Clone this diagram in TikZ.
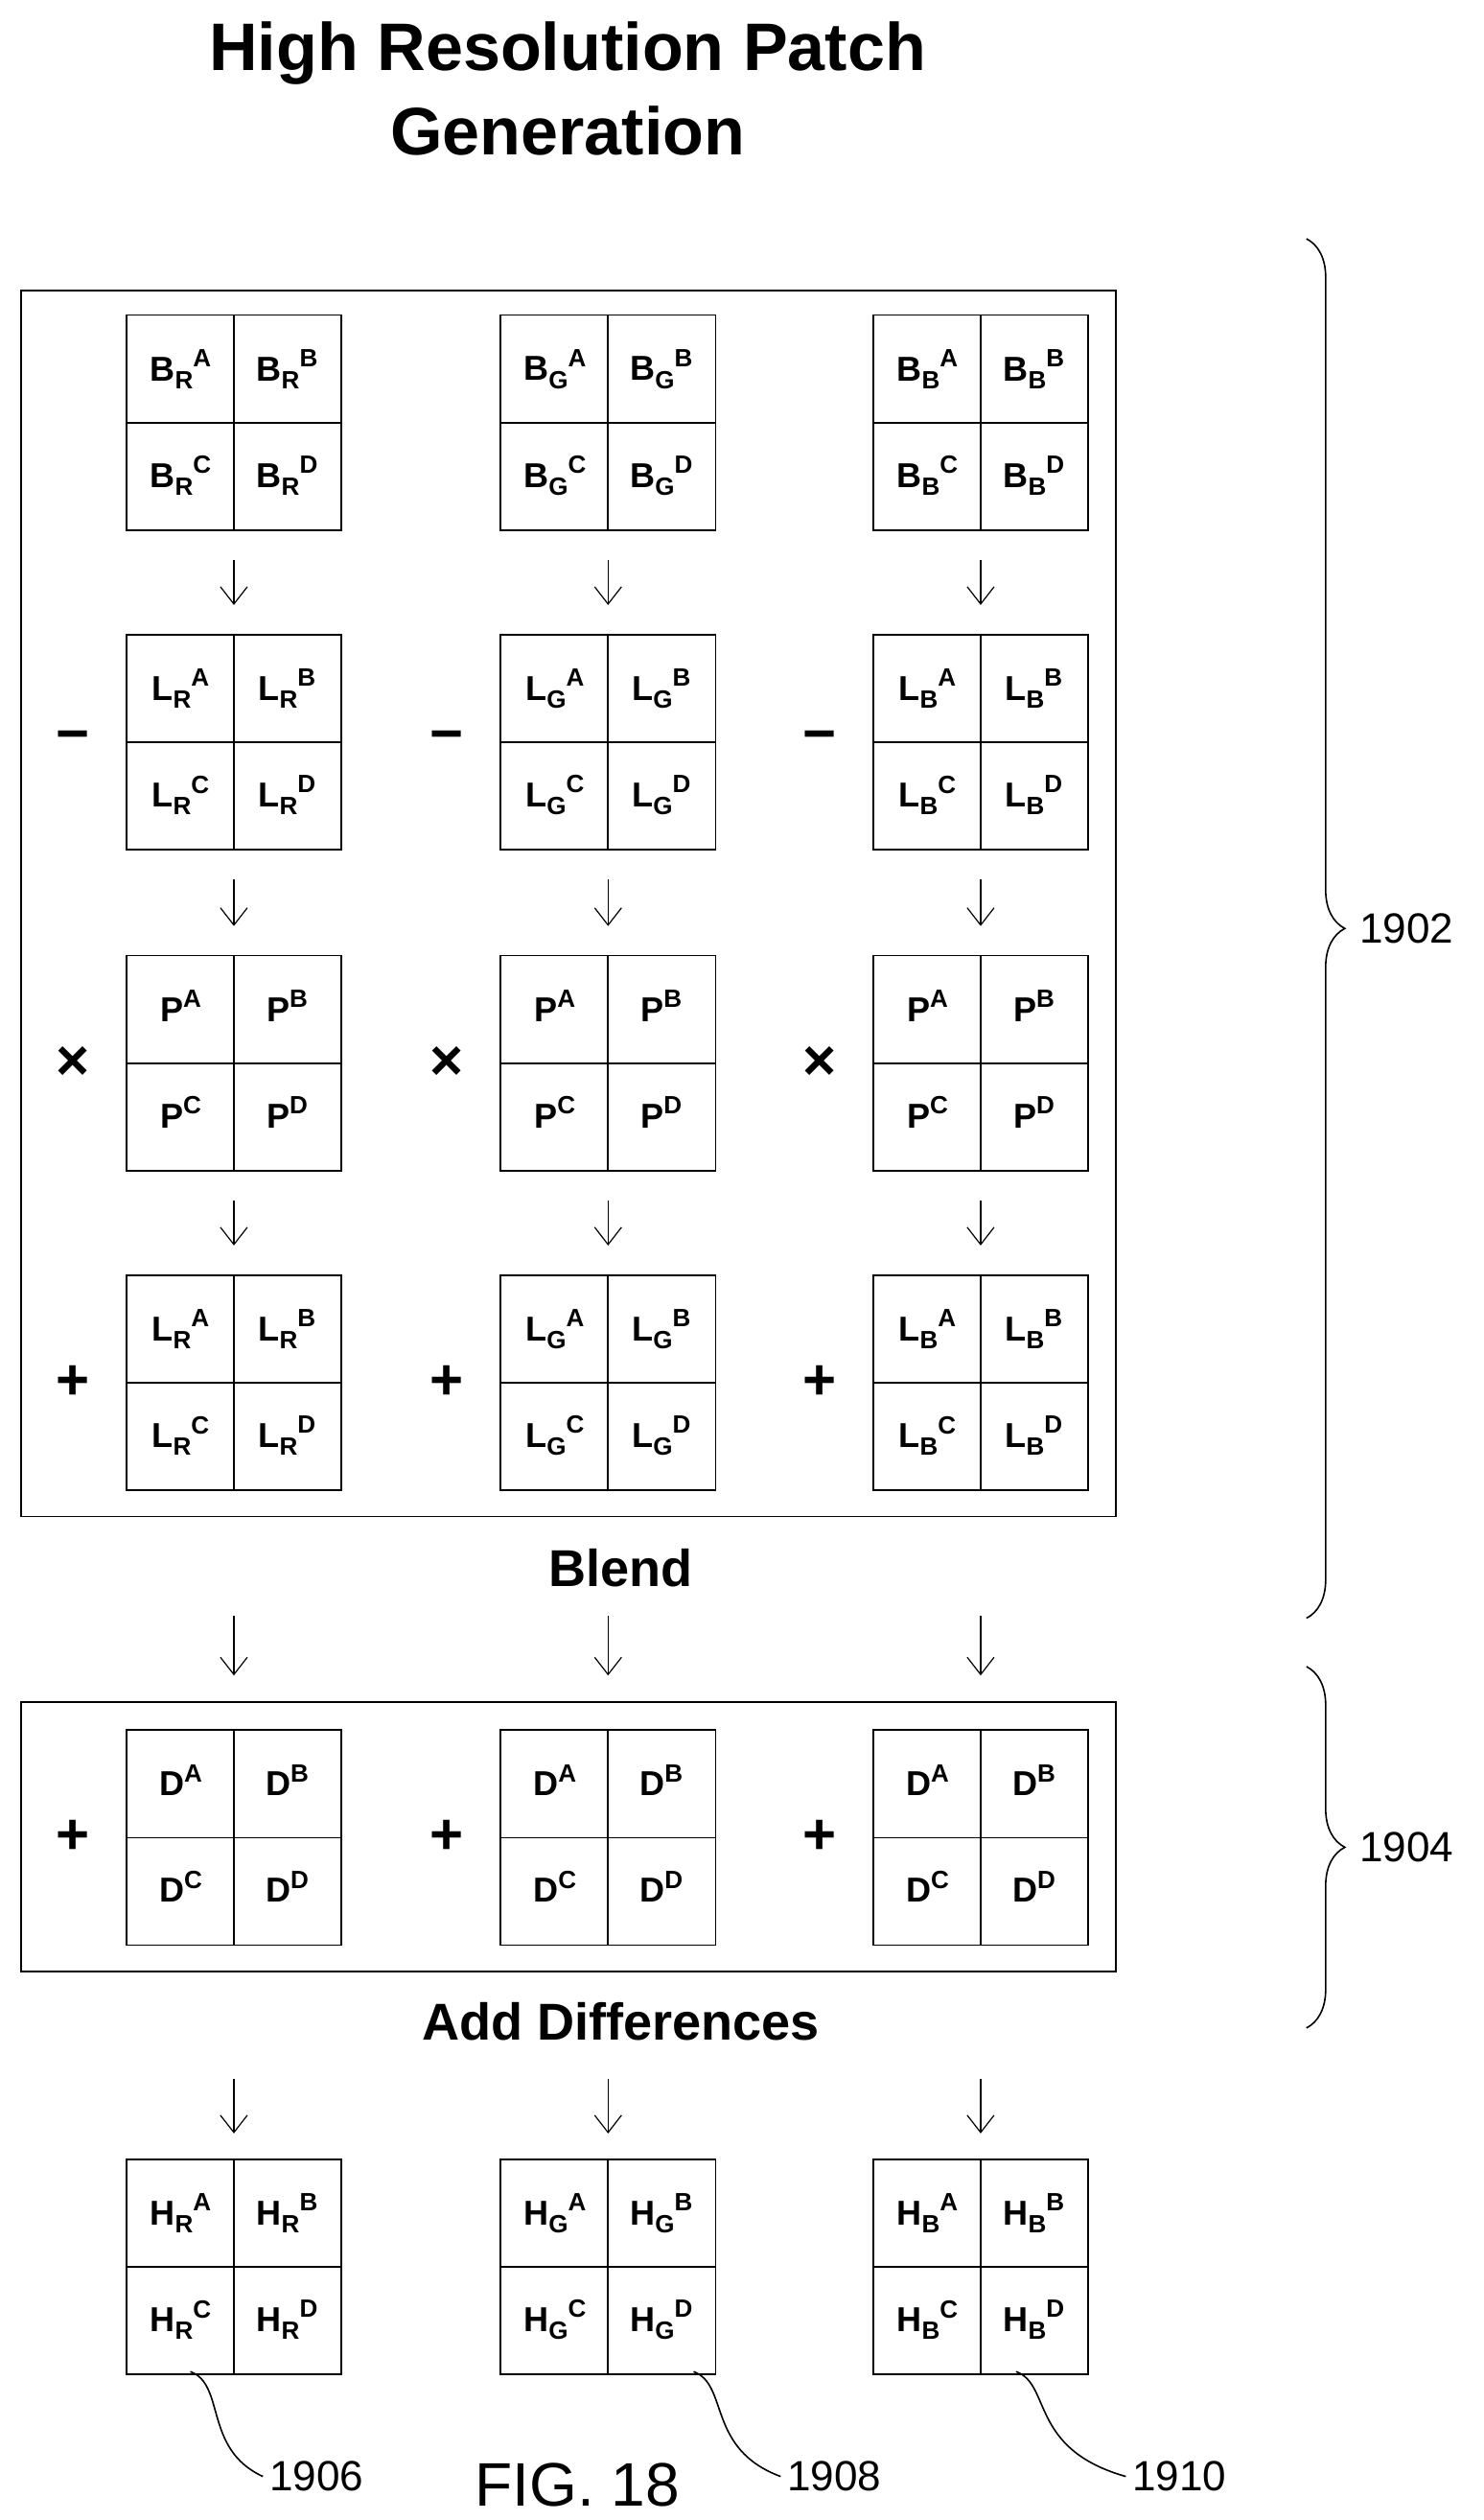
\documentclass[tikz,border=0pt]{standalone}
\usepackage{fontspec}
\setmainfont{Liberation Sans}
\usetikzlibrary{calc,arrows.meta,decorations.pathreplacing}
\tikzset{
  patch/.style={draw,thick,minimum size=112pt,inner sep=0pt},
  cell/.style={font=\bfseries\fontsize{18}{18}\selectfont,inner sep=0pt},
  flow/.style={semithick,-{Straight Barb[length=9pt,width=14pt]}},
  oper/.style={font=\bfseries\fontsize{30}{30}\selectfont},
  caption/.style={font=\bfseries\fontsize{27}{30}\selectfont},
  refnum/.style={font=\fontsize{22}{22}\selectfont},
}
\newcommand\ptxt[3]{#1\raisebox{-0.45ex}{\fontsize{13}{13}\selectfont #2}\raisebox{0.75ex}{\fontsize{13}{13}\selectfont #3}}
\newcommand\patch[5]{%
  \node[patch] (#1) at (#2,#3) {};
  \draw[thick] (#1.north) -- (#1.south) (#1.west) -- (#1.east);
  \node[cell] at ($(#1.center)+(-33,-33)$) {\ptxt{#4}{#5}{A}};
  \node[cell] at ($(#1.center)+(33,-33)$) {\ptxt{#4}{#5}{B}};
  \node[cell] at ($(#1.center)+(-33,33)$) {\ptxt{#4}{#5}{C}};
  \node[cell] at ($(#1.center)+(33,33)$) {\ptxt{#4}{#5}{D}};
}
\begin{document}
\begin{tikzpicture}[x=0.84pt,y=-0.84pt]
\useasboundingbox (0,0) rectangle (920,1562);
\node[font=\bfseries\fontsize{35}{44}\selectfont,align=center] (title) at (352,55)
  {High Resolution Patch\\Generation};
% outer frames
\draw[thick] (13,180) rectangle (692,940);
\draw[thick] (13,1055) rectangle (692,1222);
% patches, one column per channel
\foreach \i/\x/\c in {1/145/R,2/377/G,3/608/B}{
  \patch{B\i}{\x}{262}{B}{\c}
  \patch{L\i}{\x}{460}{L}{\c}
  \patch{P\i}{\x}{659}{P}{}
  \patch{S\i}{\x}{857}{L}{\c}
  \patch{D\i}{\x}{1139}{D}{}
  \patch{H\i}{\x}{1405}{H}{\c}
  \node[oper] at (\x-100,460) {\char"2212};
  \node[oper] at (\x-100,659) {\char"00D7};
  \node[oper] at (\x-100,857) {+};
  \node[oper] at (\x-100,1139) {+};
  \draw[flow,shorten <=15pt,shorten >=15pt] (B\i) -- (L\i);
  \draw[flow,shorten <=15pt,shorten >=15pt] (L\i) -- (P\i);
  \draw[flow,shorten <=15pt,shorten >=15pt] (P\i) -- (S\i);
  \draw[flow,shorten <=65pt,shorten >=28pt] (S\i) -- (D\i);
  \draw[flow,shorten <=69pt,shorten >=13pt] (D\i) -- (H\i);
}
\node[caption] (blend) at (385,972) {Blend};
\node[caption] (adddiff) at (385,1253) {Add Differences};
% braces on the right
\draw[thick,decorate,decoration={brace,amplitude=20pt}] (810,148) -- (810,1003)
  node[midway,right=24pt,refnum] (n1902) {1902};
\draw[thick,decorate,decoration={brace,amplitude=20pt}] (810,1033) -- (810,1257)
  node[midway,right=24pt,refnum] (n1904) {1904};
% reference leaders
\node[refnum,anchor=west] (n1906) at (163,1535) {1906};
\node[refnum,anchor=west] (n1908) at (484,1535) {1908};
\node[refnum,anchor=west] (n1910) at (698,1535) {1910};
\coordinate (h1) at (118,1470);
\coordinate (h2) at (430,1470);
\coordinate (h3) at (630,1470);
\draw[thick] (h1) .. controls (140,1478) and (126,1518) .. (n1906.west);
\draw[thick] (h2) .. controls (452,1478) and (438,1518) .. (n1908.west);
\draw[thick] (h3) .. controls (652,1478) and (638,1518) .. (n1910.west);
\node[font=\fontsize{32}{32}\selectfont] (fig) at (358,1540) {FIG. 18};
\end{tikzpicture}
\end{document}
